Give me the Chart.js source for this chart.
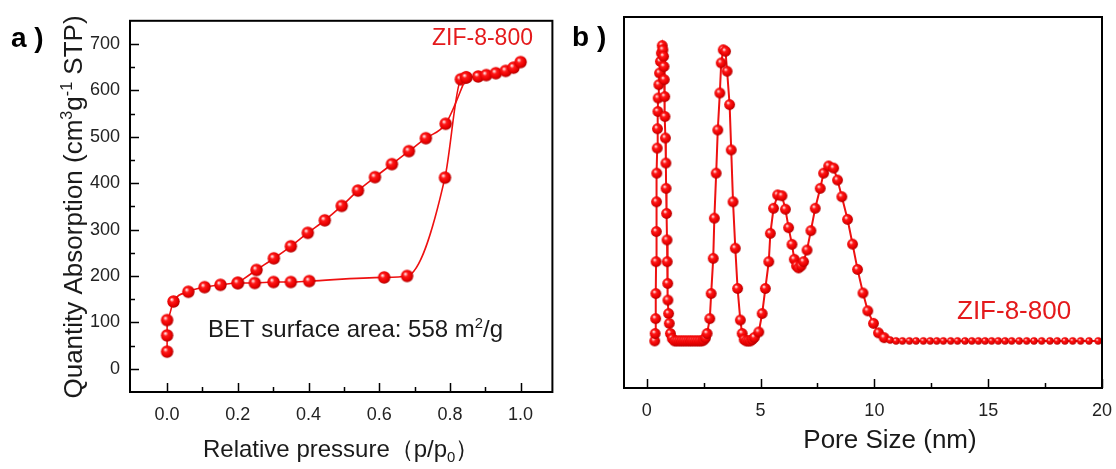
<!DOCTYPE html>
<html>
<head>
<meta charset="utf-8">
<script src="https://cdn.jsdelivr.net/npm/chart.js@4.4.1/dist/chart.umd.min.js"></script>
<style>
  html, body { margin: 0; padding: 0; background: #fff; overflow: hidden; }
  #wrap { position: relative; width: 1116px; height: 469px; }
  canvas { position: absolute; top: 0; }
  #chartA { left: 0; }
  #chartB { left: 560px; }
</style>
</head>
<body>
<div id="wrap">
  <canvas id="chartA" width="560" height="469"></canvas>
  <canvas id="chartB" width="556" height="469"></canvas>
</div>
<script>
// ---- panel a : N2 isotherm (relative pressure vs quantity) ----
const adsX = [0, 0, 0, 0.018, 0.06, 0.106, 0.151, 0.2, 0.248, 0.301, 0.35, 0.402, 0.614, 0.679, 0.786, 0.831, 0.846, 0.88, 0.903, 0.93, 0.958, 0.98, 1.0];
const adsY = [37, 72, 105, 145, 166, 176, 181, 185, 185, 187, 187, 189, 197, 200, 412, 624, 628, 630, 633, 637, 642, 649, 661];
const desX = [0.2, 0.253, 0.302, 0.35, 0.398, 0.446, 0.494, 0.54, 0.588, 0.636, 0.684, 0.732, 0.788, 0.846];
const desY = [185, 213, 238, 264, 293, 320, 351, 384, 413, 441, 469, 497, 528, 628];

const xTicksA = [0, 0.2, 0.4, 0.6, 0.8, 1.0];
const xMinorA = [0.1, 0.3, 0.5, 0.7, 0.9];
const yTicksA = [0, 100, 200, 300, 400, 500, 600, 700];
const yMinorA = [50, 150, 250, 350, 450, 550, 650];

// ---- panel b : pore size distribution (arbitrary units) ----
const poreX = [
  0.35, 0.37, 0.39, 0.40, 0.41, 0.42, 0.43, 0.44, 0.46, 0.47, 0.49, 0.50, 0.53, 0.56, 0.60, 0.64, 0.68,
  0.71, 0.74, 0.76, 0.77, 0.79, 0.80, 0.82, 0.84, 0.85, 0.87, 0.89, 0.90, 0.92, 0.93, 0.96, 0.99, 1.04, 1.12, 1.22,
  1.32, 1.42, 1.52, 1.62, 1.72, 1.82, 1.92, 2.02, 2.12, 2.22, 2.32, 2.42, 2.50,
  2.58, 2.65, 2.77, 2.83, 2.92, 2.97, 3.05, 3.12, 3.21, 3.27, 3.36, 3.46, 3.53, 3.64, 3.71, 3.79, 3.89, 3.99, 4.11, 4.19,
  4.28, 4.37, 4.46, 4.55, 4.64, 4.73,
  4.92, 5.07, 5.21, 5.36, 5.43, 5.57, 5.75, 5.94, 6.09, 6.23, 6.38, 6.48, 6.58, 6.67, 6.78, 6.89,
  7.04, 7.21, 7.40, 7.62, 7.77, 7.99, 8.21, 8.38, 8.57, 8.82, 9.04, 9.26, 9.50, 9.71, 9.96, 10.18, 10.43, 10.69,
  10.95, 11.23, 11.54, 11.83, 12.15, 12.45, 12.74, 13.03, 13.35, 13.65, 13.98, 14.28, 14.57, 14.86, 15.15,
  15.44, 15.74, 16.03, 16.36, 16.69, 17.01, 17.35, 17.71, 18.03, 18.37, 18.71, 19.06, 19.43, 19.83
];
const poreY = [
  0.00, 0.025, 0.075, 0.159, 0.266, 0.367, 0.467, 0.563, 0.647, 0.712, 0.770, 0.815, 0.860, 0.899, 0.938, 0.966, 0.991,
  0.977, 0.955, 0.921, 0.877, 0.820, 0.753, 0.681, 0.597, 0.512, 0.428, 0.339, 0.266, 0.193, 0.137, 0.092, 0.059, 0.025, 0.008, 0.0,
  0, 0, 0, 0, 0, 0, 0, 0, 0, 0, 0, 0, 0.003,
  0.01, 0.025, 0.075, 0.159, 0.277, 0.412, 0.563, 0.708, 0.832, 0.933, 0.977, 0.972, 0.905, 0.793, 0.641, 0.467, 0.311, 0.176, 0.070, 0.025,
  0.005, 0, 0, 0, 0.005, 0.012,
  0.030, 0.092, 0.176, 0.266, 0.361, 0.445, 0.490, 0.487, 0.442, 0.380, 0.324, 0.274, 0.252, 0.245, 0.252, 0.266,
  0.305, 0.370, 0.445, 0.512, 0.563, 0.587, 0.580, 0.540, 0.484, 0.408, 0.325, 0.240, 0.161, 0.101, 0.059, 0.027, 0.011, 0.003,
  0, 0, 0, 0, 0, 0, 0, 0, 0, 0, 0, 0, 0, 0, 0,
  0, 0, 0, 0, 0, 0, 0, 0, 0, 0, 0, 0, 0, 0
];
const xTicksB = [0, 5, 10, 15, 20];
const xMinorB = [2.5, 7.5, 12.5, 17.5];

const seriesName = 'ZIF-8-800';

const red = '#ee1111';
const textRed = '#e41a1c';
const sansFont = "'Liberation Sans', Arial, sans-serif";
const tickFont = "'Liberation Sans Narrow', 'Liberation Sans', Arial, sans-serif";

// shaded ball marker, like the origin-style sphere symbols
function sphere(r) {
    const s = Math.ceil(2 * r) + 2;
    const c = document.createElement('canvas');
    c.width = s; c.height = s;
    const g = c.getContext('2d');
    const cx = s / 2, cy = s / 2;
    const gr = g.createRadialGradient(cx - r * 0.3, cy - r * 0.35, 0, cx - r * 0.1, cy - r * 0.1, r * 1.1);
    gr.addColorStop(0, '#ffffff');
    gr.addColorStop(0.16, '#ffa0a0');
    gr.addColorStop(0.34, '#ff1a1a');
    gr.addColorStop(0.75, '#ea0000');
    gr.addColorStop(1, '#b00000');
    g.fillStyle = gr;
    g.beginPath();
    g.arc(cx, cy, r, 0, Math.PI * 2);
    g.fill();
    return c;
}
const ballA = sphere(6.2);
const ballB = sphere(5.4);
const ballSmall = sphere(3.7);

// text with superscript / subscript pieces
function drawRuns(ctx, runs, x, y, size, color, align) {
    let total = 0;
    runs.forEach(r => {
        const fs = (r.sup || r.sub) ? size * 0.62 : size;
        ctx.font = fs + 'px ' + sansFont;
        r.w = ctx.measureText(r.t).width;
        r.fs = fs;
        total += r.w;
    });
    let cx = align === 'center' ? x - total / 2 : x;
    ctx.fillStyle = color;
    ctx.textAlign = 'left';
    ctx.textBaseline = 'alphabetic';
    runs.forEach(r => {
        ctx.font = r.fs + 'px ' + sansFont;
        let dy = 0;
        if (r.sup) dy = -size * 0.38;
        if (r.sub) dy = size * 0.2;
        ctx.fillText(r.t, cx, y + dy);
        cx += r.w;
    });
}

function inwardTicks(ctx, chart, xs, ys, len) {
    const area = chart.chartArea;
    const sx = chart.scales.x, sy = chart.scales.y;
    ctx.beginPath();
    xs.forEach(v => {
        const p = Math.round(sx.getPixelForValue(v)) + 0.5;
        ctx.moveTo(p, area.bottom);
        ctx.lineTo(p, area.bottom - len);
    });
    ys.forEach(v => {
        const p = Math.round(sy.getPixelForValue(v)) + 0.5;
        ctx.moveTo(area.left, p);
        ctx.lineTo(area.left + len, p);
    });
    ctx.stroke();
}

function frame(ctx, area) {
    ctx.strokeStyle = '#000';
    ctx.lineWidth = 2;
    ctx.strokeRect(area.left, area.top, area.right - area.left, area.bottom - area.top);
}

// keep the plot box where the figure has it, labels may hang over the edge
function fixX(height) {
    return s => {
        s.height = height;
        s.paddingLeft = 0;
        s.paddingRight = 0;
    };
}

const decorA = {
    id: 'decorA',
    afterDraw(chart) {
        const ctx = chart.ctx;
        const area = chart.chartArea;
        ctx.save();
        frame(ctx, area);
        ctx.lineWidth = 1.5;
        inwardTicks(ctx, chart, xTicksA, yTicksA, 9);
        inwardTicks(ctx, chart, xMinorA, yMinorA, 5);

        ctx.fillStyle = '#000';
        ctx.font = 'bold 28px ' + sansFont;
        ctx.textAlign = 'left';
        ctx.fillText('a )', 11, 47);

        ctx.font = '23px ' + sansFont;
        ctx.fillStyle = textRed;
        ctx.fillText(seriesName, 432, 45);

        drawRuns(ctx, [{ t: 'BET surface area: 558 m' }, { t: '2', sup: true }, { t: '/g' }], 208, 337, 24, '#1a1a1a', 'left');

        drawRuns(ctx, [{ t: 'Relative pressure（p/p' }, { t: '0', sub: true }, { t: '）' }],
            (area.left + area.right) / 2, 457, 24, '#1a1a1a', 'center');

        ctx.translate(82, 207);
        ctx.rotate(-Math.PI / 2);
        drawRuns(ctx, [{ t: 'Quantity Absorption (cm' }, { t: '3', sup: true }, { t: 'g' }, { t: '-1', sup: true }, { t: ' STP)' }],
            0, 0, 26, '#1a1a1a', 'center');
        ctx.restore();
    }
};

const decorB = {
    id: 'decorB',
    afterDraw(chart) {
        const ctx = chart.ctx;
        const area = chart.chartArea;
        ctx.save();
        frame(ctx, area);
        ctx.lineWidth = 1.5;
        inwardTicks(ctx, chart, xTicksB, [], 9);
        inwardTicks(ctx, chart, xMinorB, [], 5);

        ctx.fillStyle = '#000';
        ctx.font = 'bold 28px ' + sansFont;
        ctx.textAlign = 'left';
        ctx.fillText('b )', 12, 46);

        ctx.font = '26px ' + sansFont;
        ctx.fillStyle = textRed;
        ctx.fillText(seriesName, 397, 319);

        drawRuns(ctx, [{ t: 'Pore Size (nm)' }], 330, 448, 26, '#1a1a1a', 'center');
        ctx.restore();
    }
};

const tickStyle = { color: '#222', font: { family: tickFont, size: 18 } };

new Chart(document.getElementById('chartA'), {
    type: 'scatter',
    data: {
        datasets: [
            {
                label: seriesName + ' desorption',
                data: desX.map((x, i) => ({ x: x, y: desY[i] })),
                showLine: true,
                borderColor: red,
                borderWidth: 1.6,
                cubicInterpolationMode: 'monotone',
                pointStyle: ballA,
                pointRadius: 6
            },
            {
                label: seriesName + ' adsorption',
                data: adsX.map((x, i) => ({ x: x, y: adsY[i] })),
                showLine: true,
                borderColor: red,
                borderWidth: 1.6,
                cubicInterpolationMode: 'monotone',
                pointStyle: ballA,
                pointRadius: 6
            }
        ]
    },
    options: {
        responsive: false,
        animation: false,
        devicePixelRatio: 1,
        layout: { padding: { left: 0, top: 15, right: 7, bottom: 0 } },
        plugins: { legend: { display: false }, tooltip: { enabled: false } },
        scales: {
            x: {
                type: 'linear', min: -0.105, max: 1.09,
                afterBuildTicks: s => { s.ticks = xTicksA.map(v => ({ value: v })); },
                afterFit: fixX(77),
                grid: { display: false, drawTicks: false },
                border: { display: false },
                ticks: Object.assign({ padding: 12, maxRotation: 0, autoSkip: false, callback: v => v.toFixed(1) }, tickStyle)
            },
            y: {
                type: 'linear', min: -50, max: 750,
                afterBuildTicks: s => { s.ticks = yTicksA.map(v => ({ value: v })); },
                afterFit: s => { s.width = 130; },
                grid: { display: false, drawTicks: false },
                border: { display: false },
                ticks: Object.assign({ padding: 10, autoSkip: false }, tickStyle)
            }
        }
    },
    plugins: [decorA]
});

new Chart(document.getElementById('chartB'), {
    type: 'scatter',
    data: {
        datasets: [{
            label: seriesName,
            data: poreX.map((x, i) => ({ x: x, y: poreY[i] })),
            showLine: true,
            borderColor: red,
            borderWidth: 2,
            tension: 0,
            pointStyle: c => (c.raw && c.raw.x > 10.6 ? ballSmall : ballB),
            pointRadius: 5
        }]
    },
    options: {
        responsive: false,
        animation: false,
        devicePixelRatio: 1,
        layout: { padding: { left: 0, top: 17, right: 14, bottom: 0 } },
        plugins: { legend: { display: false }, tooltip: { enabled: false } },
        scales: {
            x: {
                type: 'linear', min: -1, max: 20,
                afterBuildTicks: s => { s.ticks = xTicksB.map(v => ({ value: v })); },
                afterFit: fixX(81),
                grid: { display: false, drawTicks: false },
                border: { display: false },
                ticks: Object.assign({ padding: 12, maxRotation: 0, autoSkip: false }, tickStyle)
            },
            y: {
                type: 'linear', min: -0.158, max: 1.087,
                afterFit: s => { s.width = 64; },
                grid: { display: false, drawTicks: false },
                border: { display: false },
                ticks: { display: false }
            }
        }
    },
    plugins: [decorB]
});
</script>
</body>
</html>
